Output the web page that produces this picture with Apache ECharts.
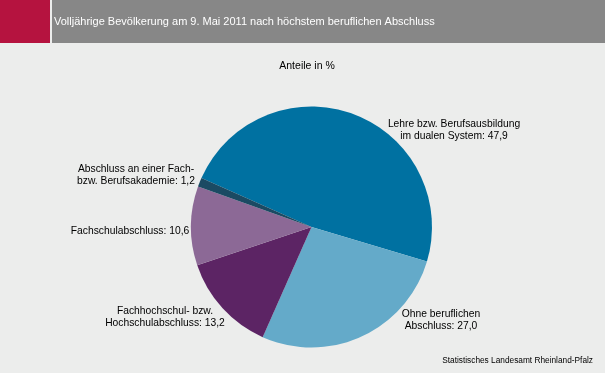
<!DOCTYPE html>
<html><head><meta charset="utf-8">
<script src="https://cdn.jsdelivr.net/npm/echarts@6/dist/echarts.min.js"></script>
<style>html,body{margin:0;padding:0;background:#ECEDEC;}#c{width:605px;height:373px;}</style>
</head><body><div id="c"></div>
<script>
const categories = [
  'Lehre bzw. Berufsausbildung\nim dualen System',
  'Ohne beruflichen\nAbschluss',
  'Fachhochschul- bzw.\nHochschulabschluss',
  'Fachschulabschluss',
  'Abschluss an einer Fach-\nbzw. Berufsakademie'
];
const values = [47.9, 27.0, 13.2, 10.6, 1.2];
const colors = ['#0071A1', '#64AAC9', '#5C2464', '#8C6996', '#1B4A63'];
const titleText = 'Volljährige Bevölkerung am 9. Mai 2011 nach höchstem beruflichen Abschluss';
const subtitleText = 'Anteile in %';
const sourceText = 'Statistisches Landesamt Rheinland-Pfalz';

// label anchor positions (layout only)
const labelPos = [[454, 130], [441, 320], [165, 317], [130, 231], [136, 175]];

const chart = echarts.init(document.getElementById('c'), null, {renderer: 'canvas'});
const font = 'Liberation Sans, Arial, sans-serif';
chart.setOption({
  animation: false,
  backgroundColor: '#ECEDEC',
  graphic: [
    {type: 'rect', shape: {x: 0, y: 0, width: 50, height: 43}, style: {fill: '#B5133F'}, z: -1},
    {type: 'rect', shape: {x: 52, y: 0, width: 553, height: 43}, style: {fill: '#878787'}, z: -1}
  ],
  title: [
    {text: titleText, left: 49, top: 11, textStyle: {color: '#ffffff', fontSize: 11, fontWeight: 'normal', fontFamily: font}},
    {text: subtitleText, left: 302, top: 56, textAlign: 'center', textStyle: {color: '#000', fontSize: 10.5, fontWeight: 'normal', fontFamily: font}},
    {text: sourceText, right: 7, top: 352, textStyle: {color: '#000', fontSize: 8.3, fontWeight: 'normal', fontFamily: font}}
  ],
  series: [{
    type: 'pie',
    center: [311.5, 227],
    radius: 120.5,
    startAngle: 156,
    clockwise: true,
    avoidLabelOverlap: false,
    emphasis: {disabled: true},
    itemStyle: {borderWidth: 0},
    label: {
      show: true,
      position: 'outside',
      color: '#000',
      fontSize: 10.3,
      lineHeight: 12,
      fontFamily: font,
      align: 'center',
      formatter: p => p.name + ': ' + p.value.toFixed(1).replace('.', ',')
    },
    labelLine: {show: false},
    labelLayout: p => ({x: labelPos[p.dataIndex][0], y: labelPos[p.dataIndex][1], align: 'center', verticalAlign: 'middle'}),
    data: categories.map((n, i) => ({name: n, value: values[i], itemStyle: {color: colors[i]}}))
  }]
});
</script></body></html>
